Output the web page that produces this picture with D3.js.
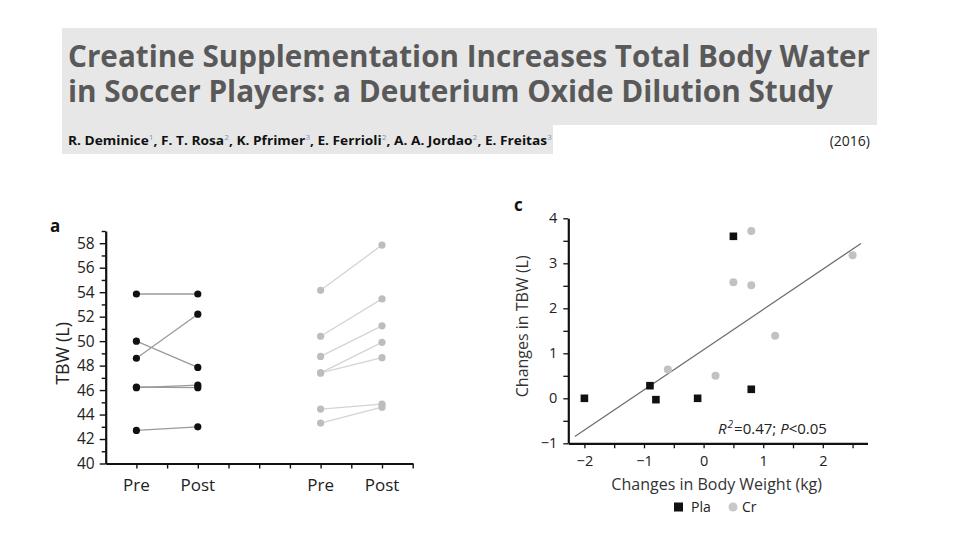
<!DOCTYPE html>
<html>
<head>
<meta charset="utf-8">
<script src="https://cdn.jsdelivr.net/npm/d3@7"></script>
<style>
  body { margin: 0; background: #fff; }
  svg { display: block; font-family: "Open Sans", "Noto Sans", sans-serif; }
</style>
</head>
<body>
<div id="chart"></div>
<script>
// ---- data ----
const titleLines = [
  "Creatine Supplementation Increases Total Body Water",
  "in Soccer Players: a Deuterium Oxide Dilution Study"
];
const authors = [
  ["R. Deminice", "1"], ["F. T. Rosa", "2"], ["K. Pfrimer", "3"],
  ["E. Ferrioli", "2"], ["A. A. Jordao", "2"], ["E. Freitas", "3"]
];
const year = "(2016)";

// panel a: TBW (L) before / after, one pair per player
const groups = ["Pla", "Cr"];
const timepoints = ["Pre", "Post"];
const plaPre  = [53.85, 50.0, 48.6, 46.2, 46.25, 42.7];
const plaPost = [53.85, 47.85, 52.2, 46.4, 46.2, 43.0];
const crPre   = [54.15, 50.4, 48.75, 47.4, 47.4, 44.45, 43.3];
const crPost  = [57.85, 53.45, 51.25, 49.9, 48.65, 44.85, 44.6];
const tbwTicks = [40, 42, 44, 46, 48, 50, 52, 54, 56, 58];

// panel c: change in body weight (kg) vs change in TBW (L)
const plaDBW  = [-2.0, -0.9, -0.8, -0.1, 0.5, 0.8];
const plaDTBW = [0.0, 0.28, -0.03, 0.0, 3.6, 0.2];
const crDBW   = [-0.6, 0.2, 0.5, 0.8, 0.8, 1.2, 2.5];
const crDTBW  = [0.64, 0.5, 2.58, 3.72, 2.51, 1.39, 3.18];
const fitX = [-2.16, 2.64];
const fitY = [-0.85, 3.44];
const bwTicks = [-2, -1, 0, 1, 2];
const dTbwTicks = [-1, 0, 1, 2, 3, 4];
const statText = ["R", "2", "=0.47; ", "P", "<0.05"];

const W = 960, H = 540;
const svg = d3.select("#chart").append("svg")
  .attr("width", W).attr("height", H);

// ---- header ----
svg.append("rect").attr("x", 62).attr("y", 28).attr("width", 815).attr("height", 97)
  .attr("fill", "#e7e7e7");
svg.append("rect").attr("x", 62).attr("y", 124).attr("width", 491).attr("height", 30)
  .attr("fill", "#e7e7e7");

// two-line title in one text element, each line stretched to its width in the figure
const titleW = [802, 765];
const title = svg.append("text")
  .attr("font-size", 31).attr("font-weight", 700).attr("fill", "#595959");
titleLines.forEach((t, i) => {
  title.append("tspan")
    .attr("x", 68).attr("y", 67 + i * 35)
    .attr("textLength", titleW[i]).attr("lengthAdjust", "spacingAndGlyphs")
    .text(t);
});

// author line: natural layout, then squeezed to the width seen in the figure
const auG = svg.append("g");
const au = auG.append("text")
  .attr("x", 0).attr("y", 0)
  .attr("font-size", 13).attr("font-weight", 700).attr("fill", "#111");
authors.forEach((a, i) => {
  au.append("tspan").attr("dy", i ? 5 : 0).text((i ? ", " : "") + a[0]);
  au.append("tspan").attr("dy", -5).attr("font-size", 8).attr("font-weight", 400)
    .attr("fill", "#8096b8").text(a[1]);
});
const auW = au.node().getComputedTextLength();
auG.attr("transform", `translate(68,145) scale(${484 / auW},1)`);

svg.append("text").attr("x", 870).attr("y", 146).attr("text-anchor", "end")
  .attr("font-size", 14).attr("fill", "#222").text(year);

// ---- panel a ----
const xA = d3.scaleLinear().domain([0, 10]).range([105.7, 412.7]);
const yA = d3.scaleLinear().domain([40, 59]).range([463.5, 231]);
const slot = (g, t) => groups.indexOf(g) * 6 + timepoints.indexOf(t) * 2 + 1;

const gA = svg.append("g");

// y axis
gA.append("g").attr("transform", `translate(${xA(0)},0)`)
  .call(d3.axisLeft(yA).tickValues(d3.range(41, 60, 2)).tickSize(4).tickFormat(""))
  .call(g => g.select(".domain").remove())
  .selectAll("line").attr("stroke", "#111").attr("stroke-width", 1.4);
gA.append("g").attr("transform", `translate(${xA(0)},0)`)
  .call(d3.axisLeft(yA).tickValues(tbwTicks).tickSize(6).tickSizeOuter(0).tickPadding(5))
  .call(g => g.select(".domain").attr("stroke", "#111").attr("stroke-width", 2.2))
  .call(g => g.selectAll("line").attr("stroke", "#111").attr("stroke-width", 1.4))
  .call(g => g.selectAll("text").attr("font-size", 15.5).attr("fill", "#222")
    .attr("font-family", "'Open Sans', sans-serif"));

// x axis
gA.append("g").attr("transform", `translate(0,${yA(40)})`)
  .call(d3.axisBottom(xA).tickValues(d3.range(1, 11)).tickSize(5).tickSizeOuter(0).tickFormat(""))
  .call(g => g.select(".domain").attr("stroke", "#111").attr("stroke-width", 2.2))
  .call(g => g.selectAll("line").attr("stroke", "#111").attr("stroke-width", 1.4));

groups.forEach(g => timepoints.forEach(t => {
  gA.append("text").attr("x", xA(slot(g, t))).attr("y", 491)
    .attr("text-anchor", "middle").attr("font-size", 17).attr("fill", "#222").text(t);
}));

gA.append("text")
  .attr("transform", `translate(69,${yA(49)}) rotate(-90)`)
  .attr("text-anchor", "middle").attr("font-size", 18).attr("fill", "#222").text("TBW (L)");
svg.append("text").attr("x", 50).attr("y", 232).attr("font-size", 17)
  .attr("font-weight", 700).attr("fill", "#111").text("a");

const pairs = [
  { g: "Pla", pre: plaPre, post: plaPost, line: "#9a9a9a", dot: "#111" },
  { g: "Cr", pre: crPre, post: crPost, line: "#d4d4d4", dot: "#bdbdbd" }
];
pairs.forEach(p => {
  const rows = p.pre.map((v, i) => [v, p.post[i]]);
  const x0 = xA(slot(p.g, "Pre")), x1 = xA(slot(p.g, "Post"));
  gA.append("g").selectAll("line").data(rows).join("line")
    .attr("x1", x0).attr("x2", x1)
    .attr("y1", d => yA(d[0])).attr("y2", d => yA(d[1]))
    .attr("stroke", p.line).attr("stroke-width", 1.3);
  const pts = rows.flatMap(d => [[x0, d[0]], [x1, d[1]]]);
  gA.append("g").selectAll("circle").data(pts).join("circle")
    .attr("cx", d => d[0]).attr("cy", d => yA(d[1])).attr("r", 3.6)
    .attr("fill", p.dot);
});

// ---- panel c ----
const xC = d3.scaleLinear().domain([-2.27, 2.75]).range([568.3, 867.5]);
const yC = d3.scaleLinear().domain([-1, 4]).range([443.3, 218.3]);
const gC = svg.append("g");

gC.append("g").attr("transform", `translate(${xC(-2.27)},0)`)
  .call(d3.axisLeft(yC).tickValues(d3.range(-0.5, 4, 1)).tickSize(5).tickFormat(""))
  .call(g => g.select(".domain").remove())
  .selectAll("line").attr("stroke", "#111").attr("stroke-width", 1.3);
gC.append("g").attr("transform", `translate(${xC(-2.27)},0)`)
  .call(d3.axisLeft(yC).tickValues(dTbwTicks).tickSize(5).tickSizeOuter(0).tickPadding(6)
    .tickFormat(d => d < 0 ? "\u2212" + Math.abs(d) : d))
  .call(g => g.select(".domain").attr("stroke", "#111").attr("stroke-width", 2.2))
  .call(g => g.selectAll("line").attr("stroke", "#111").attr("stroke-width", 1.3))
  .call(g => g.selectAll("text").attr("font-size", 14.5).attr("fill", "#222")
    .attr("font-family", "'Open Sans', sans-serif"));

gC.append("g").attr("transform", `translate(0,${yC(-1)})`)
  .call(d3.axisBottom(xC).tickValues(d3.range(-2, 2.6, 0.5)).tickSize(5).tickSizeOuter(0).tickFormat(""))
  .call(g => g.select(".domain").attr("stroke", "#111").attr("stroke-width", 2.2))
  .call(g => g.selectAll("line").attr("stroke", "#111").attr("stroke-width", 1.3));
gC.append("g").attr("transform", `translate(0,${yC(-1)})`)
  .call(d3.axisBottom(xC).tickValues(bwTicks).tickSize(0).tickPadding(12)
    .tickFormat(d => d < 0 ? "\u2212" + Math.abs(d) : d))
  .call(g => g.select(".domain").remove())
  .call(g => g.selectAll("text").attr("font-size", 14.5).attr("fill", "#222")
    .attr("font-family", "'Open Sans', sans-serif"));

gC.append("text").attr("x", xC(0.22)).attr("y", 490).attr("text-anchor", "middle")
  .attr("font-size", 16).attr("fill", "#333").text("Changes in Body Weight (kg)");
gC.append("text")
  .attr("transform", `translate(528,${yC(1.6)}) rotate(-90)`)
  .attr("text-anchor", "middle").attr("font-size", 16).attr("fill", "#333")
  .text("Changes in TBW (L)");
svg.append("text").attr("x", 514).attr("y", 211).attr("font-size", 17)
  .attr("font-weight", 700).attr("fill", "#111").text("c");

// regression line
gC.append("line")
  .attr("x1", xC(fitX[0])).attr("y1", yC(fitY[0]))
  .attr("x2", xC(fitX[1])).attr("y2", yC(fitY[1]))
  .attr("stroke", "#6e6e6e").attr("stroke-width", 1.3);

gC.append("g").selectAll("circle").data(crDBW.map((v, i) => [v, crDTBW[i]])).join("circle")
  .attr("cx", d => xC(d[0])).attr("cy", d => yC(d[1])).attr("r", 4)
  .attr("fill", "#c2c2c2");
gC.append("g").selectAll("rect").data(plaDBW.map((v, i) => [v, plaDTBW[i]])).join("rect")
  .attr("x", d => xC(d[0]) - 3.8).attr("y", d => yC(d[1]) - 3.8)
  .attr("width", 7.6).attr("height", 7.6).attr("fill", "#111");

const st = gC.append("text").attr("x", 718).attr("y", 434)
  .attr("font-size", 15).attr("fill", "#222");
st.append("tspan").attr("font-style", "italic").text(statText[0]);
st.append("tspan").attr("dx", 1).attr("dy", -6).attr("font-size", 10).attr("font-style", "italic").text(statText[1]);
st.append("tspan").attr("dx", 1).attr("dy", 6).text(statText[2]);
st.append("tspan").attr("font-style", "italic").text(statText[3]);
st.append("tspan").text(statText[4]);

// legend
const lg = gC.append("g").attr("transform", "translate(0,507)");
lg.append("rect").attr("x", 674).attr("y", -4.5).attr("width", 9).attr("height", 9).attr("fill", "#111");
lg.append("text").attr("x", 691).attr("y", 5).attr("font-size", 14).attr("fill", "#222").text(groups[0]);
lg.append("circle").attr("cx", 733).attr("cy", 0).attr("r", 4.5).attr("fill", "#c8c8c8");
lg.append("text").attr("x", 742).attr("y", 5).attr("font-size", 14).attr("fill", "#222").text(groups[1]);
</script>
</body>
</html>
